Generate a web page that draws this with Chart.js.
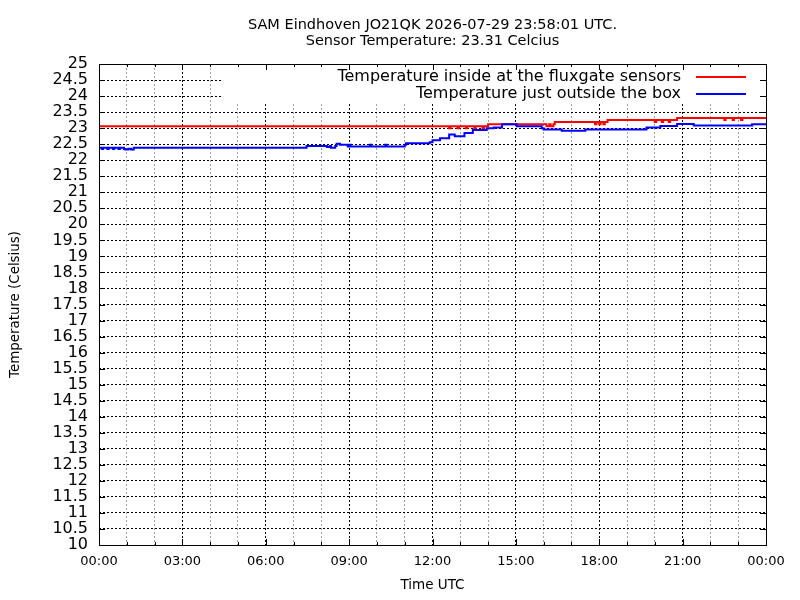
<!DOCTYPE html>
<html>
<head>
<meta charset="utf-8">
<script src="https://cdn.jsdelivr.net/npm/chart.js@4/dist/chart.umd.min.js"></script>
<style>
  html, body { margin: 0; padding: 0; background: #fff; }
  canvas { display: block; }
</style>
</head>
<body>
<canvas id="c" width="800" height="600"></canvas>
<script>
// ---- Data (hours UTC, degrees Celsius) ----
const titleLines = ['SAM Eindhoven JO21QK 2026-07-29 23:58:01 UTC.', 'Sensor Temperature: 23.31 Celcius'];
const seriesNames = ['Temperature inside at the fluxgate sensors', 'Temperature just outside the box'];
const hourTickLabels = ['00:00', '03:00', '06:00', '09:00', '12:00', '15:00', '18:00', '21:00', '00:00'];

const insideHours = [0, 12.6, 12.65, 12.9, 12.95, 13.2, 13.25, 13.5, 13.55, 13.8, 13.85, 14.0,
  16.1, 16.2, 16.25, 16.35, 16.4, 17.85, 17.9, 18.0, 18.05, 18.15, 18.2, 18.3,
  20.0, 20.05, 20.25, 20.3, 20.5, 20.55, 20.8, 22.5, 22.55, 22.8, 22.85, 23.1, 23.15, 23.35, 24.0];
const insideTemps = [23.0, 23.0625, 23.0, 23.0625, 23.0, 23.0625, 23.0, 23.0625, 23.0, 23.0625, 23.0, 23.0625,
  23.125, 23.0625, 23.125, 23.0625, 23.125, 23.1875, 23.125, 23.1875, 23.125, 23.1875, 23.125, 23.1875,
  23.25, 23.1875, 23.25, 23.1875, 23.25, 23.1875, 23.25, 23.3125, 23.25, 23.3125, 23.25, 23.3125, 23.25, 23.3125, 23.3125];

const outsideHours = [0, 0.1, 0.15, 0.3, 0.35, 0.5, 0.55, 0.7, 0.75, 0.9, 0.95, 1.05, 1.15, 1.25,
  7.47, 8.2, 8.3, 8.35, 8.5, 8.55, 8.67, 8.95, 9.0, 9.05, 9.75, 9.8, 10.3, 10.35, 11.0, 11.05,
  11.9, 12.0, 12.27, 12.6, 12.8, 13.15, 13.45, 13.95, 14.2, 14.5, 15.03, 15.93, 16.0, 16.65,
  17.5, 19.7, 20.2, 20.8, 21.4, 23.5, 23.85, 24.0];
const outsideTemps = [22.35, 22.39, 22.35, 22.39, 22.35, 22.39, 22.35, 22.39, 22.35, 22.39, 22.35, 22.33, 22.36, 22.33,
  22.39, 22.44, 22.41, 22.44, 22.39, 22.44, 22.51, 22.48, 22.43, 22.48, 22.43, 22.48, 22.43, 22.48, 22.43, 22.48,
  22.53, 22.5625, 22.625, 22.6875, 22.8, 22.75, 22.85, 22.94, 23.0, 23.02, 23.12, 23.06, 23.0, 22.96,
  22.92, 22.96, 23.02, 23.07, 23.13, 23.08, 23.12, 23.12];

const seriesColors = ['#ff0000', '#0000ff'];

// ---- Build ----
const toPoints = (xs, ys) => xs.map((h, i) => ({ x: h, y: ys[i] }));
const FONT = 'DejaVu Sans';

const gnuplotFrame = {
  id: 'gnuplotFrame',
  beforeDatasetsDraw(chart) {
    // opaque key box over the grid
    const { ctx, chartArea: a, scales: { x, y } } = chart;
    const left = x.getPixelForValue(4.4);
    const bottom = y.getPixelForValue(23.78);
    ctx.save();
    ctx.fillStyle = '#ffffff';
    ctx.fillRect(left, a.top + 1, a.right - left - 1, bottom - a.top);
    ctx.restore();
  },
  afterDraw(chart) {
    const { ctx, chartArea: a, scales: { x, y } } = chart;
    ctx.save();
    // border
    ctx.strokeStyle = '#000';
    ctx.lineWidth = 1;
    ctx.setLineDash([]);
    ctx.strokeRect(Math.round(a.left) + 0.5, Math.round(a.top) + 0.5,
      Math.round(a.right - a.left), Math.round(a.bottom - a.top));
    // inward tick marks
    ctx.beginPath();
    x.ticks.forEach(t => {
      const px = Math.round(x.getPixelForValue(t.value)) + 0.5;
      const len = (t.value % 3 === 0) ? 6 : 3;
      ctx.moveTo(px, a.bottom); ctx.lineTo(px, a.bottom - len);
      ctx.moveTo(px, a.top); ctx.lineTo(px, a.top + len);
    });
    y.ticks.forEach(t => {
      const py = Math.round(y.getPixelForValue(t.value)) + 0.5;
      ctx.moveTo(a.left, py); ctx.lineTo(a.left + 6, py);
      ctx.moveTo(a.right, py); ctx.lineTo(a.right - 6, py);
    });
    ctx.stroke();
    // key
    ctx.font = '16px "' + FONT + '"';
    ctx.textAlign = 'right';
    ctx.textBaseline = 'middle';
    chart.data.datasets.forEach((ds, i) => {
      const yy = a.top + 13 + i * 17;
      ctx.fillStyle = '#000';
      ctx.fillText(ds.label, a.right - 85, yy);
      ctx.strokeStyle = ds.borderColor;
      ctx.lineWidth = 2;
      ctx.beginPath();
      ctx.moveTo(a.right - 70, yy);
      ctx.lineTo(a.right - 20, yy);
      ctx.stroke();
    });
    ctx.restore();
  }
};

new Chart(document.getElementById('c'), {
  type: 'line',
  data: {
    datasets: [
      { label: seriesNames[0], data: toPoints(insideHours, insideTemps), borderColor: seriesColors[0],
        backgroundColor: seriesColors[0], borderWidth: 2, pointRadius: 0, stepped: 'after', order: 1 },
      { label: seriesNames[1], data: toPoints(outsideHours, outsideTemps), borderColor: seriesColors[1],
        backgroundColor: seriesColors[1], borderWidth: 2, pointRadius: 0, stepped: 'after', order: 0 }
    ]
  },
  options: {
    responsive: false,
    animation: false,
    devicePixelRatio: 1,
    layout: { padding: { left: 0, right: 34, top: 0, bottom: 0 } },
    plugins: {
      legend: { display: false },
      tooltip: { enabled: false },
      title: {
        display: true,
        text: titleLines,
        fullSize: false,
        color: '#000',
        font: { family: FONT, size: 14.5, weight: 'normal', lineHeight: '16px' },
        padding: { top: 17, bottom: 15 }
      }
    },
    scales: {
      x: {
        type: 'linear',
        min: 0, max: 24,
        afterFit: s => { s.height = 55; },
        ticks: {
          stepSize: 1,
          autoSkip: false,
          maxRotation: 0,
          padding: 9,
          color: '#000',
          font: { family: FONT, size: 13 },
          callback: v => (v % 3 === 0 ? hourTickLabels[v / 3] : '')
        },
        grid: {
          drawTicks: false,
          lineWidth: 1,
          color: c => (c.tick && c.tick.value % 3 === 0) ? '#000000' : '#a0a0a0'
        },
        border: {
          display: false,
          dash: [2, 2]
        },
        title: {
          display: true,
          text: 'Time UTC',
          color: '#000',
          font: { family: FONT, size: 13.5 },
          padding: { top: 0, bottom: 6 }
        }
      },
      y: {
        type: 'linear',
        min: 10, max: 25,
        afterFit: s => { s.width = 99; },
        ticks: {
          stepSize: 0.5,
          autoSkip: false,
          padding: 11,
          color: '#000',
          font: { family: FONT, size: 16 },
          callback: v => String(v)
        },
        grid: { drawTicks: false, lineWidth: 1, color: '#000000' },
        border: { display: false, dash: [2, 2] },
        title: {
          display: true,
          text: 'Temperature (Celsius)',
          color: '#000',
          font: { family: FONT, size: 13.4 },
          padding: { top: 7, bottom: 0 }
        }
      }
    }
  },
  plugins: [gnuplotFrame]
});
</script>
</body>
</html>
